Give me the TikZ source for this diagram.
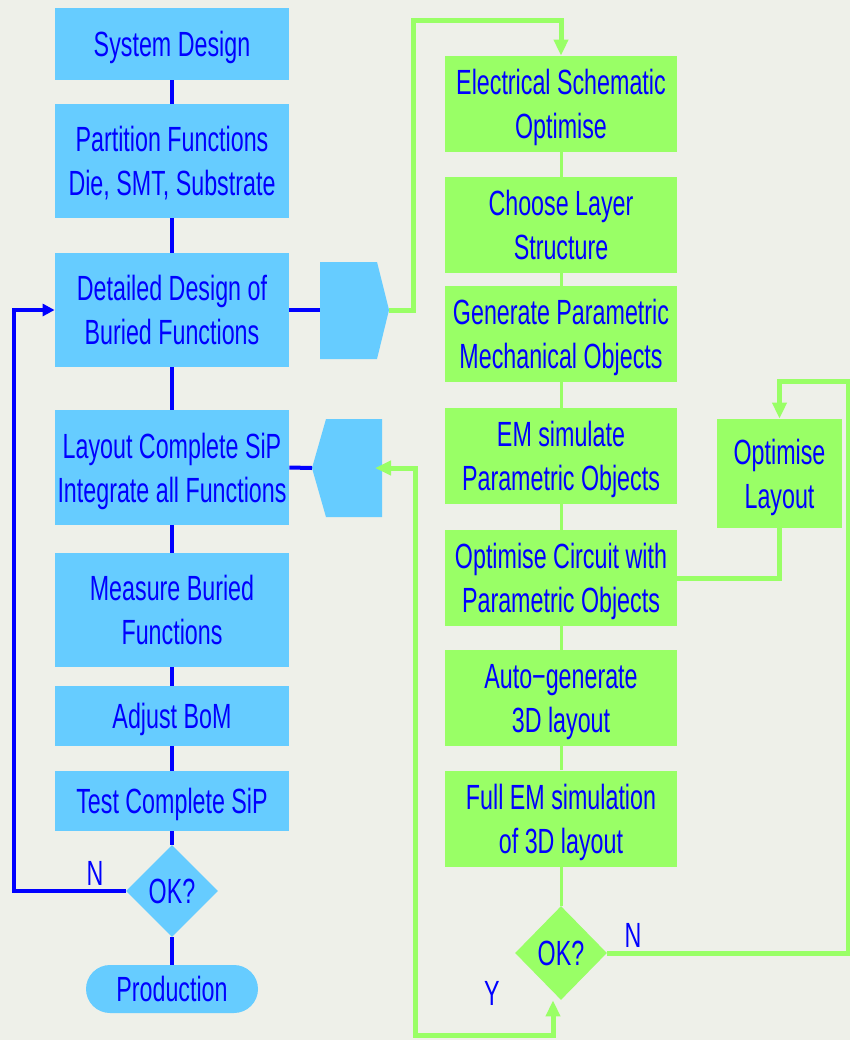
\documentclass[tikz,border=0pt]{standalone}
\usepackage{fontspec}
\setmainfont{Liberation Sans}[FakeStretch=0.665]
\usepackage{tikz}
\usetikzlibrary{arrows.meta,shapes.geometric,positioning}

\definecolor{skyfill}{RGB}{102,204,255}
\definecolor{limefill}{RGB}{153,255,102}
\definecolor{inkblue}{RGB}{0,0,255}
\definecolor{paper}{RGB}{238,240,233}

\tikzset{
  boxtext/.style={text=inkblue, align=center, inner sep=0pt, text depth=0pt, font=\fontsize{17.5}{22}\selectfont},
  bluebox/.style={boxtext, fill=skyfill, minimum width=117pt},
  greenbox/.style={boxtext, fill=limefill, minimum width=116pt, minimum height=48pt},
  bluetest/.style={boxtext, diamond, fill=skyfill, minimum width=46pt, minimum height=46pt},
  greentest/.style={boxtext, diamond, fill=limefill, minimum width=46pt, minimum height=47pt},
  blueline/.style={draw=inkblue, line width=2pt},
  greenline/.style={draw=limefill, line width=2.5pt},
  greenthin/.style={draw=limefill, line width=1.5pt},
  lbl/.style={text=inkblue, inner sep=0pt, font=\fontsize{17.5}{22}\selectfont},
}

\begin{document}
\begin{tikzpicture}[x=0.5pt,y=-0.5pt,>={Triangle[width=7pt,length=8pt]}]
    \useasboundingbox (0,0) rectangle (850,1040);
    \fill[paper] (0,0) rectangle (850,1040);

    \node[bluebox, minimum height=36pt] (sysd) at (172,44) {System Design};
    \node[bluebox, minimum height=57pt] (part) at (172,161) {Partition Functions\\Die, SMT, Substrate};
    \node[bluebox, minimum height=57pt] (dd) at (172,310) {Detailed Design of\\Buried Functions};
    \node[bluebox, minimum height=57.5pt] (lay) at (172,467.5) {Layout Complete SiP\\Integrate all Functions};
    \node[bluebox, minimum height=57pt] (meas) at (172,610) {Measure Buried\\Functions};
    \node[bluebox, minimum height=30pt] (bom) at (172,716) {Adjust BoM};
    \node[bluebox, minimum height=30pt] (test) at (172,801) {Test Complete SiP};
    \node[bluetest] (okL) at (172,891) {OK?};
    \node[boxtext, fill=skyfill, minimum width=86pt, minimum height=24pt, rounded corners=12pt] (prod) at (172,989) {Production};

    \node[greenbox] (esch) at (561,104) {Electrical Schematic\\Optimise};
    \node[greenbox] (layer) at (561,225) {Choose Layer\\Structure};
    \node[greenbox] (gen) at (561,334) {Generate Parametric\\Mechanical Objects};
    \node[greenbox] (emsim) at (561,456) {EM simulate\\Parametric Objects};
    \node[greenbox] (optc) at (561,578) {Optimise Circuit with\\Parametric Objects};
    \node[greenbox] (auto) at (561,698) {Auto−generate\\3D layout};
    \node[greenbox] (full) at (561,818.5) {Full EM simulation\\of 3D layout};
    \node[greentest] (okG) at (561,953) {OK?};
    \node[boxtext, fill=limefill, minimum width=62.5pt, minimum height=54.5pt] (optL) at (779.5,473.5) {Optimise\\Layout};

    \coordinate (tabAin) at (320,310);
    \coordinate (tabAout) at (389,310);
    \fill[skyfill] (320,262) -- (377,262) -- (tabAout) -- (377,359) -- (320,359) -- cycle;
    \coordinate (tabBin) at (312,468);
    \coordinate (tabBout) at (375,468);
    \fill[skyfill] (tabBin) -- (326,419) -- (382,419) -- (382,517) -- (326,517) -- cycle;

    \coordinate (bendA) at (413,20);
    \coordinate (bendB) at (415,1035);
    \coordinate (rimTop) at (848,381);
    \coordinate (loopL) at (14,891);

    \draw[blueline] (sysd) -- (part);
    \draw[blueline] (part) -- (dd);
    \draw[blueline] (dd) -- (lay);
    \draw[blueline] (lay) -- (meas);
    \draw[blueline] (meas) -- (bom);
    \draw[blueline] (bom) -- (test);
    \draw[blueline] (test) -- (okL);
    \draw[blueline] (okL) -- (prod);
    \draw[blueline] (dd.east) -- (tabAin);
    \draw[blueline] (lay.east) -- (tabBin);
    \draw[blueline,->,>={Triangle[width=6pt,length=6pt]}] (okL.west) -- (loopL) |- (dd.west);

    \draw[greenthin] (esch) -- (layer);
    \draw[greenthin] (layer) -- (gen);
    \draw[greenthin] (gen) -- (emsim);
    \draw[greenthin] (emsim) -- (optc);
    \draw[greenthin] (optc) -- (auto);
    \draw[greenthin] (auto) -- (full);
    \draw[greenthin] (full) -- (okG);

    \draw[greenline,->] (tabAout) -| (bendA) -| (esch.north);
    \draw[greenline,<->] (tabBout) -| (bendB) -| ([xshift=-4pt]okG.south);
    \draw[greenline] (optc.east) -| (optL.south);
    \draw[greenline,->] (okG.east) -| (rimTop) -| (optL.north);

    \node[lbl] (nL) at (95,873) {N};
    \node[lbl] (nG) at (633,935) {N};
    \node[lbl] (yG) at (492,993) {Y};
\end{tikzpicture}
\end{document}
